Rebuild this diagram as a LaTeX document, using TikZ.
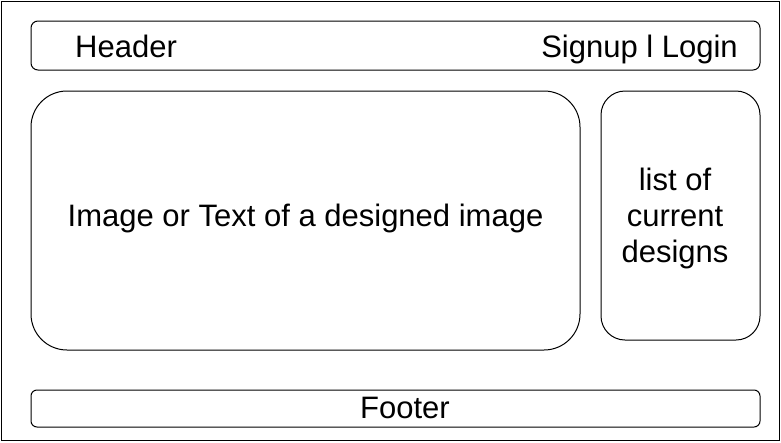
\documentclass[tikz,border=0pt]{standalone}
\usepackage{fontspec}
\setmainfont{Liberation Sans}
\tikzset
{
    panel/.style    = {draw=black, line width=1pt, inner sep=0pt},
    pagetext/.style = {inner sep=0pt, align=center, font=\fontsize{31}{36}\selectfont}
}

\begin{document}
\begin{tikzpicture}[x=1pt, y=-1pt]
    \useasboundingbox (0,0) rectangle (781,442);
    % page and its panels
    \node [panel, minimum width=778pt, minimum height=439pt] (page) at (390,221) {};
    \node [panel, rounded corners=7pt, minimum width=729pt, minimum height=49pt] (header) at (395.5,45.5) {};
    \node [panel, rounded corners=36pt, minimum width=549pt, minimum height=259pt] (image) at (305.5,220.5) {};
    \node [panel, rounded corners=24pt, minimum width=159pt, minimum height=249pt] (designs) at (680.5,215.5) {};
    \node [panel, rounded corners=6pt, minimum width=729pt, minimum height=37pt] (footer) at (395.5,408.5) {};
    % texts
    \node [pagetext, anchor=base west] (headertext) at (75,57) {Header};
    \node [pagetext, anchor=base east] (logintext) at (738,57) {Signup l Login};
    \node [pagetext, anchor=base] (imagetext) at (305.5,226) {Image or Text of a designed image};
    \node [pagetext] (designstext) at (675,218.5) {list of\\current\\designs};
    \node [pagetext, anchor=base] (footertext) at (405,418) {Footer};
\end{tikzpicture}
\end{document}
